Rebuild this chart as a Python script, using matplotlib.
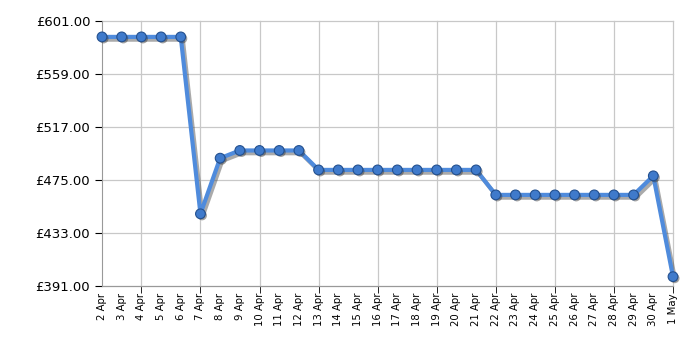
import matplotlib.pyplot as plt
import matplotlib.patheffects as pe

dates = ['2 Apr', '3 Apr', '4 Apr', '5 Apr', '6 Apr', '7 Apr', '8 Apr', '9 Apr',
         '10 Apr', '11 Apr', '12 Apr', '13 Apr', '14 Apr', '15 Apr', '16 Apr',
         '17 Apr', '18 Apr', '19 Apr', '20 Apr', '21 Apr', '22 Apr', '23 Apr',
         '24 Apr', '25 Apr', '26 Apr', '27 Apr', '28 Apr', '29 Apr', '30 Apr', '1 May']
prices = [588.4, 588.4, 588.4, 588.4, 588.4, 448.2, 492.3, 498.4,
          498.4, 498.4, 498.4, 483.0, 483.0, 483.0, 483.0,
          483.0, 483.0, 483.0, 483.0, 483.0, 463.2, 463.2,
          463.2, 463.2, 463.2, 463.2, 463.2, 463.2, 478.3, 398.4]
y_ticks = [391, 433, 475, 517, 559, 601]

fig = plt.figure(figsize=(7, 3.5), dpi=100)
ax = fig.add_axes([102 / 700, 1 - 286 / 350, 571 / 700, 265 / 350])

x = list(range(len(dates)))
line_shadow = [pe.SimpleLineShadow(offset=(1.5, -2), shadow_color='#444444', alpha=0.45), pe.Normal()]
ax.plot(x, prices, color='#4f8bdc', lw=3, zorder=3, path_effects=line_shadow, clip_on=False)
ax.plot(x, prices, ls='none', marker='o', ms=7, mfc='#3f7acb', mec='#23508f',
        mew=0.8, zorder=4, clip_on=False,
        path_effects=[pe.SimplePatchShadow(offset=(1.2, -1.2), shadow_rgbFace='#333333', alpha=0.45), pe.Normal()])

ax.set_xlim(0, len(dates) - 1)
ax.set_ylim(391, 601)
ax.set_yticks(y_ticks)
ax.set_yticklabels(['£%.2f' % v for v in y_ticks], fontsize=9.5)

ax.xaxis.remove_overlapping_locs = False
ax.set_xticks(x)
ax.set_xticklabels(dates, rotation=90, fontsize=7.3)
ax.tick_params(axis='x', which='major', length=0, pad=5)
grid_x = list(range(len(dates) - 1, 0, -3))
ax.set_xticks(grid_x, minor=True)
ax.tick_params(axis='x', which='minor', length=5, color='black')
ax.tick_params(axis='y', length=5, color='black')

ax.grid(True, axis='y', color='#c8c8c8', lw=0.9)
ax.grid(True, axis='x', which='minor', color='#c8c8c8', lw=0.9)
for t in ax.xaxis.get_minor_ticks() + ax.yaxis.get_major_ticks():
    t.gridline.set_clip_on(False)
ax.set_axisbelow(True)
for s in ['top', 'right']:
    ax.spines[s].set_visible(False)
for s in ['left', 'bottom']:
    ax.spines[s].set_color('#999999')

fig.savefig('out.png', dpi=100)
